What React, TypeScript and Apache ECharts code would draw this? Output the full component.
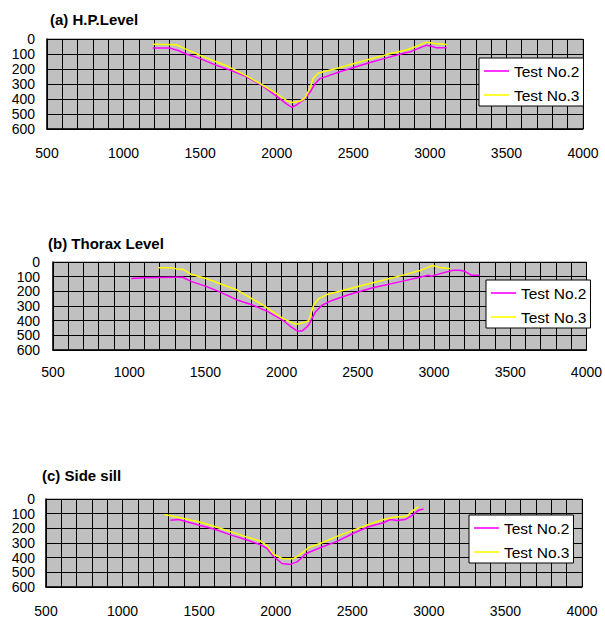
import React, { useEffect, useRef } from "react";
import * as echarts from "echarts";

const panelTitles = ["(a) H.P.Level", "(b) Thorax Level", "(c) Side sill"];
const seriesNames = ["Test No.2", "Test No.3"];
const seriesColors = ["#FF00FF", "#FFFF00"];

const hpTest2 = [
  [1190, 60], [1300, 60], [1357, 77], [1400, 97], [1500, 131], [1607, 176], [1700, 209],
  [1797, 249], [1896, 305], [1994, 377], [2064, 432], [2097, 455], [2130, 440], [2184, 398],
  [2217, 355], [2250, 300], [2282, 264], [2326, 249], [2412, 218], [2598, 160], [2718, 126],
  [2840, 92], [2870, 86], [2979, 41], [3012, 48], [3044, 59], [3110, 59],
];
const hpTest3 = [
  [1190, 35], [1345, 38], [1400, 64], [1500, 109], [1607, 153], [1672, 178], [1700, 193],
  [1797, 243], [1896, 300], [1994, 361], [2064, 410], [2097, 424], [2151, 415], [2184, 394],
  [2217, 327], [2240, 260], [2273, 227], [2403, 193], [2598, 137], [2718, 104], [2859, 70],
  [2979, 21], [3033, 30], [3110, 37],
];
const thoraxTest2 = [
  [1014, 112], [1101, 108], [1199, 106], [1308, 104], [1351, 104], [1406, 132], [1504, 166],
  [1602, 207], [1703, 257], [1804, 291], [1906, 337], [2004, 394], [2059, 440], [2102, 470],
  [2135, 470], [2157, 451], [2178, 429], [2222, 340], [2265, 295], [2330, 262], [2439, 223],
  [2592, 177], [2810, 127], [2962, 90], [2983, 97], [3005, 90], [3059, 74], [3125, 56],
  [3169, 56], [3201, 63], [3244, 90], [3299, 90],
];
const thoraxTest3 = [
  [1188, 40], [1286, 40], [1308, 47], [1351, 49], [1406, 84], [1504, 113], [1703, 189],
  [1873, 291], [2004, 383], [2091, 424], [2124, 420], [2178, 401], [2211, 291], [2243, 250],
  [2298, 222], [2439, 184], [2592, 143], [2810, 86], [2908, 58], [2941, 45], [2990, 24],
  [3049, 40], [3104, 45],
];
const sillTest2 = [
  [1312, 145], [1366, 140], [1508, 181], [1606, 208], [1715, 248], [1813, 280], [1900, 312],
  [1943, 337], [1986, 392], [2041, 440], [2095, 446], [2139, 429], [2160, 411], [2193, 377],
  [2215, 365], [2302, 327], [2404, 287], [2504, 235], [2606, 189], [2704, 162], [2748, 140],
  [2791, 147], [2845, 140], [2889, 113], [2932, 77], [2965, 68],
];
const sillTest3 = [
  [1273, 106], [1399, 133], [1508, 158], [1606, 189], [1715, 226], [1813, 260], [1900, 287],
  [1943, 318], [1986, 377], [2041, 405], [2095, 408], [2117, 406], [2139, 392], [2182, 361],
  [2215, 331], [2302, 298], [2404, 253], [2504, 214], [2606, 174], [2704, 140], [2769, 124],
  [2856, 118], [2889, 84], [2921, 61], [2932, 54],
];

const panelData = [
  [hpTest2, hpTest3],
  [thoraxTest2, thoraxTest3],
  [sillTest2, sillTest3],
];

const FONT = "'Liberation Sans', Arial, sans-serif";

// layout (pixels)
const grids = [
  { left: 47, top: 39, width: 536, height: 90 },
  { left: 53, top: 262, width: 536, height: 88 },
  { left: 46, top: 499, width: 536, height: 89 },
];
const titlePos = [
  { left: 50, top: 12 },
  { left: 48, top: 236 },
  { left: 42, top: 468 },
];
const legendPos = [
  { left: 479, top: 58 },
  { left: 486, top: 280 },
  { left: 469, top: 515 },
];
const xLabelMargin = [17, 15, 17];
const yLabelMargin = [12, 13, 11];

const LINE_ICON = "path://M0,0 H25 V1.6 H0 Z";

export default function App() {
  const ref = useRef<HTMLDivElement>(null);
  useEffect(() => {
    if (!ref.current) return;
    const chart = echarts.init(ref.current, undefined, { renderer: "svg" });
    const option: any = {
      animation: false,
      backgroundColor: "#ffffff",
      title: panelTitles.map((t, i) => ({
        text: t,
        left: titlePos[i].left,
        top: titlePos[i].top,
        padding: 0,
        textStyle: { fontFamily: FONT, fontSize: 15, fontWeight: "bold", color: "#000" },
      })),
      grid: grids.map((g) => ({
        ...g,
        show: true,
        backgroundColor: "#C0C0C0",
        borderColor: "#808080",
        borderWidth: 1,
        containLabel: false,
      })),
      legend: legendPos.map((p) => ({
        left: p.left,
        top: p.top,
        orient: "vertical",
        data: seriesNames.map((n) => ({ name: n, icon: LINE_ICON })),
        backgroundColor: "#ffffff",
        borderColor: "#000000",
        borderWidth: 1,
        borderRadius: 0,
        padding: [5, 4, 3, 5],
        itemWidth: 25,
        itemHeight: 14,
        itemGap: 8,
        symbolKeepAspect: true,
        textStyle: { fontFamily: FONT, fontSize: 15.5, color: "#000" },
        selectedMode: false,
      })),
      xAxis: grids.map((_, i) => ({
        type: "value",
        gridIndex: i,
        min: 500,
        max: 4000,
        interval: 500,
        axisLine: { show: true, onZero: false, lineStyle: { color: "#000", width: 1.5 } },
        axisTick: { show: false },
        minorTick: { show: false, splitNumber: 5 },
        splitLine: { show: true, lineStyle: { color: "#000", width: 1 } },
        minorSplitLine: { show: true, lineStyle: { color: "#000", width: 1 } },
        axisLabel: {
          margin: xLabelMargin[i],
          fontFamily: FONT,
          fontSize: 14,
          color: "#000",
          showMinLabel: true,
          showMaxLabel: true,
          formatter: (v: number) => String(v),
        },
      })),
      yAxis: grids.map((_, i) => ({
        type: "value",
        gridIndex: i,
        inverse: true,
        min: 0,
        max: 600,
        interval: 100,
        axisLine: { show: true, onZero: false, lineStyle: { color: "#000", width: 1.5 } },
        axisTick: { show: false },
        splitLine: { show: true, lineStyle: { color: "#000", width: 1 } },
        axisLabel: {
          margin: yLabelMargin[i],
          fontFamily: FONT,
          fontSize: 14,
          color: "#000",
          lineHeight: 14,
          formatter: (v: number) => String(v),
        },
      })),
      series: panelData.flatMap((pair, i) =>
        pair.map((d, k) => ({
          type: "line",
          name: seriesNames[k],
          xAxisIndex: i,
          yAxisIndex: i,
          data: d,
          symbol: "none",
          smooth: false,
          lineStyle: { color: seriesColors[k], width: 1.5 },
          itemStyle: { color: seriesColors[k] },
        }))
      ),
    };
    chart.setOption(option);
    return () => chart.dispose();
  }, []);
  return (
    <div
      ref={ref}
      style={{ position: "fixed", left: 0, top: 0, width: 605, height: 618 }}
    />
  );
}
